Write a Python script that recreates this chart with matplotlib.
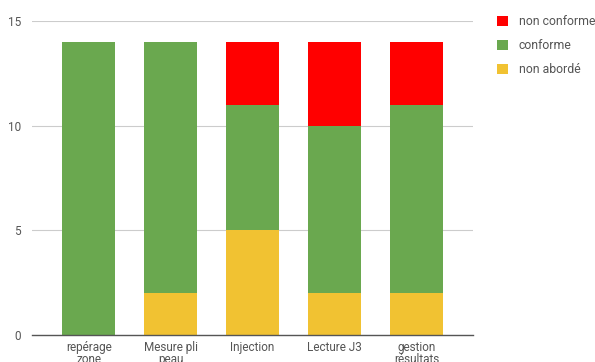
import numpy as np
import matplotlib.pyplot as plt

categories = ['repérage\nzone', 'Mesure pli\npeau', 'Injection', 'Lecture J3', 'gestion\nrésultats']
non_aborde = [0, 2, 5, 2, 2]
conforme = [14, 12, 6, 8, 9]
non_conforme = [0, 0, 3, 4, 3]

series = [
    ('non conforme', non_conforme, '#ff0000'),
    ('conforme', conforme, '#6aa84f'),
    ('non abordé', non_aborde, '#f1c232'),
]

plt.rcParams['font.family'] = ['Roboto', 'DejaVu Sans']

fig = plt.figure(figsize=(5.95, 3.62), dpi=100)
ax = fig.add_axes([0.054, 0.0746, 0.741, 0.8674])

x = np.arange(len(categories))
bottom = np.zeros(len(categories))
handles = []
for name, vals, col in reversed(series):
    b = ax.bar(x, vals, width=0.646, bottom=bottom, color=col, label=name, zorder=2)
    bottom += np.array(vals)
    handles.append(b)

ax.set_xlim(-0.69, 4.69)
ax.set_ylim(0, 15)
ax.set_yticks([0, 5, 10, 15])
ax.yaxis.grid(True, color='#cccccc', linewidth=0.8, zorder=0)
for s in ['top', 'right', 'left']:
    ax.spines[s].set_visible(False)
ax.spines['bottom'].set_color('#555555')
ax.spines['bottom'].set_linewidth(1.0)
ax.spines['bottom'].set_zorder(3)
ax.tick_params(axis='y', length=0, pad=8, labelsize=8.5, labelcolor='#555555')
ax.tick_params(axis='x', length=0, pad=4, labelsize=8.5, labelcolor='#555555')
ax.set_xticks(x)
ax.set_xticklabels(categories, linespacing=0.95)

leg_handles = handles[::-1]
leg_labels = [s[0] for s in series]
fig.legend(leg_handles, leg_labels, loc='upper left', bbox_to_anchor=(0.827, 0.972),
           frameon=False, fontsize=8.8, labelcolor='#555555', handlelength=0.9,
           handleheight=0.9, handletextpad=0.9, labelspacing=0.9, borderaxespad=0)

fig.savefig('out.png', dpi=100)
